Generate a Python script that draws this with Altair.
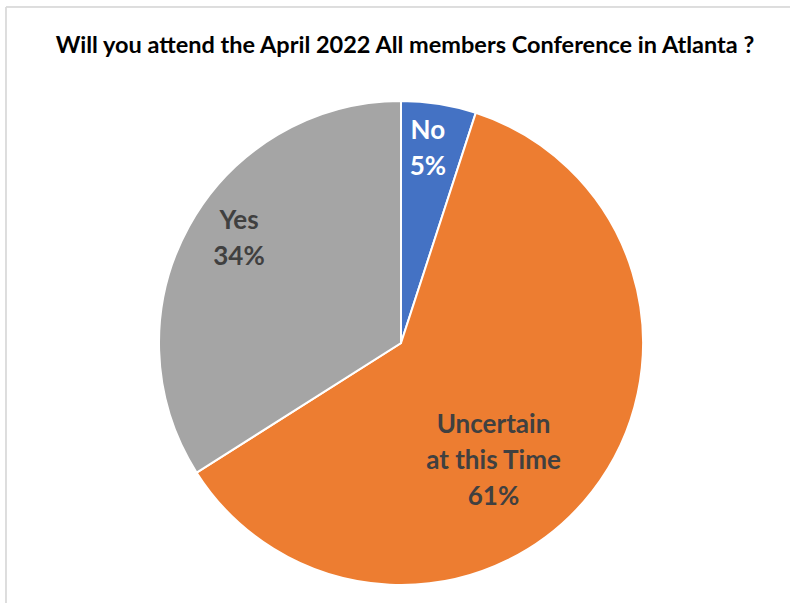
import altair as alt
import pandas as pd

title_text = "Will you attend the April 2022 All members Conference in Atlanta ?"
categories = ["No", "Uncertain at this Time", "Yes"]
label_lines = ["No\n5%", "Uncertain\nat this Time\n61%", "Yes\n34%"]
values = [5, 61, 34]
order = [1, 2, 3]
colors = ["#4472C4", "#ED7D31", "#A5A5A5"]
text_colors = ["#FFFFFF", "#404040", "#404040"]

df = pd.DataFrame({"category": categories, "label": label_lines, "value": values,
                   "order": order, "tcolor": text_colors})

W, H = 778, 520
base = alt.Chart(df)

pie = base.mark_arc(outerRadius=242, stroke="white", strokeWidth=2).encode(
    theta=alt.Theta("value:Q", stack=True),
    order=alt.Order("order:Q"),
    color=alt.Color("category:N", scale=alt.Scale(domain=categories, range=colors), legend=None),
)

def lab(cat, r, dx=0, dy=0):
    return base.mark_text(font="Lato", fontWeight="bold", fontSize=26, lineHeight=36,
                          lineBreak="\n", align="center", baseline="middle",
                          radius=r, dx=dx, dy=dy).encode(
        theta=alt.Theta("value:Q", stack=True),
        order=alt.Order("order:Q"),
        text="label:N",
        color=alt.Color("tcolor:N", scale=None),
        opacity=alt.condition(alt.datum.category == cat, alt.value(1), alt.value(0)),
    )

labels = alt.layer(
    lab("No", 197, dx=-4, dy=-17),
    lab("Uncertain at this Time", 150, dx=-26, dy=-10),
    lab("Yes", 194, dx=8, dy=-29),
)

border = base.mark_rect(fill=None, stroke="#D9D9D9", strokeWidth=1).encode(
    x=alt.value(-6), y=alt.value(-76), x2=alt.value(800), y2=alt.value(700)
)

title = alt.Chart(pd.DataFrame({"t": [title_text]})).mark_text(
    font="Lato", fontSize=23.5, fontWeight="bold", color="#000000",
    align="center", baseline="alphabetic",
).encode(text="t:N", x=alt.value(393), y=alt.value(-30))

chart = alt.layer(border, pie, labels, title).properties(
    width=W, height=H,
    padding={"left": 12, "top": 83, "right": 0, "bottom": 0},
    autosize=alt.AutoSizeParams(type="none"),
).configure(background="white").configure_view(stroke=None)

chart.save("out.html", embed_options={"renderer": "svg", "actions": False})
